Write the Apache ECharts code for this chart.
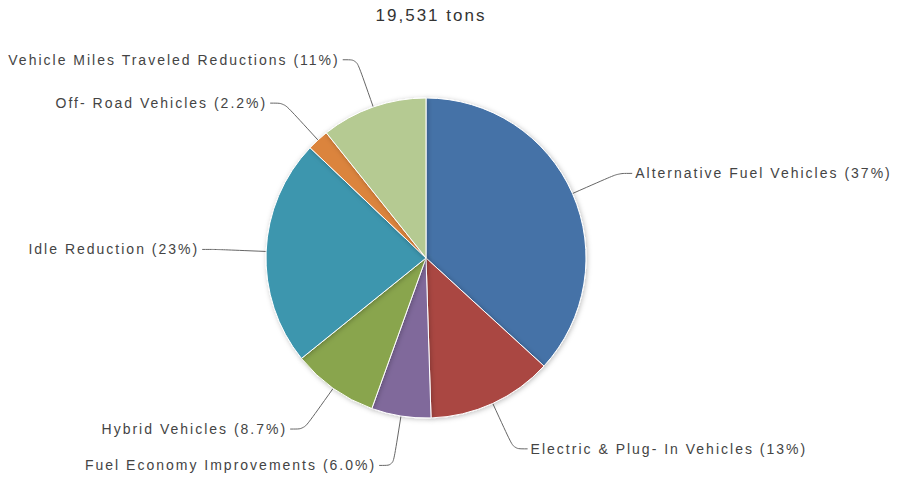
<!DOCTYPE html>
<html>
<head>
<meta charset="utf-8">
<script src="https://cdn.jsdelivr.net/npm/echarts@6/dist/echarts.min.js"></script>
<style>
  html, body { margin: 0; padding: 0; background: #fff; }
  #chart { width: 904px; height: 480px; }
  /* the source chart renders its text with loose spacing */
  #chart text { letter-spacing: 2px; }
</style>
</head>
<body>
<div id="chart"></div>
<script>
// 总量 (tons)
var totalText = "19,531 tons";

var categories = [
  "Alternative Fuel Vehicles",
  "Electric & Plug- In Vehicles",
  "Fuel Economy Improvements",
  "Hybrid Vehicles",
  "Idle Reduction",
  "Off- Road Vehicles",
  "Vehicle Miles Traveled Reductions"
];

// share of total, percent
var shares = [36.8, 12.7, 6.0, 8.7, 22.9, 2.2, 10.7];

var colors = ["#4572A7", "#AA4643", "#80699B", "#89A54E", "#3D96AE", "#DB843D", "#B5CA92"];

var chart = echarts.init(document.getElementById("chart"), null, { renderer: "svg" });

var pieData = categories.map(function (name, i) {
  return { name: name, value: shares[i] };
});

var option = {
  animation: false,
  color: colors,
  title: {
    text: totalText,
    left: 426,
    textAlign: "center",
    top: 2,
    textStyle: {
      fontFamily: "Liberation Sans",
      fontSize: 17,
      fontWeight: "normal",
      color: "#333"
    }
  },
  series: [
    {
      type: "pie",
      center: [426, 258],
      radius: 160,
      startAngle: 90,
      clockwise: true,
      data: pieData,
      itemStyle: {
        borderColor: "#fff",
        borderWidth: 1,
        shadowBlur: 5,
        shadowColor: "rgba(0,0,0,0.25)",
        shadowOffsetX: 1,
        shadowOffsetY: 1
      },
      label: {
        show: true,
        fontFamily: "Liberation Sans",
        fontSize: 14,
        color: "#444",
        distanceToLabelLine: 3,
        formatter: function (p) {
          return p.name + " (" + p.value.toPrecision(2) + "%)";
        }
      },
      labelLine: {
        show: true,
        length: 50,
        length2: 14,
        smooth: 0.3,
        lineStyle: { color: "#666", width: 1 }
      },
      emphasis: { disabled: true }
    }
  ]
};

chart.setOption(option);
</script>
</body>
</html>
